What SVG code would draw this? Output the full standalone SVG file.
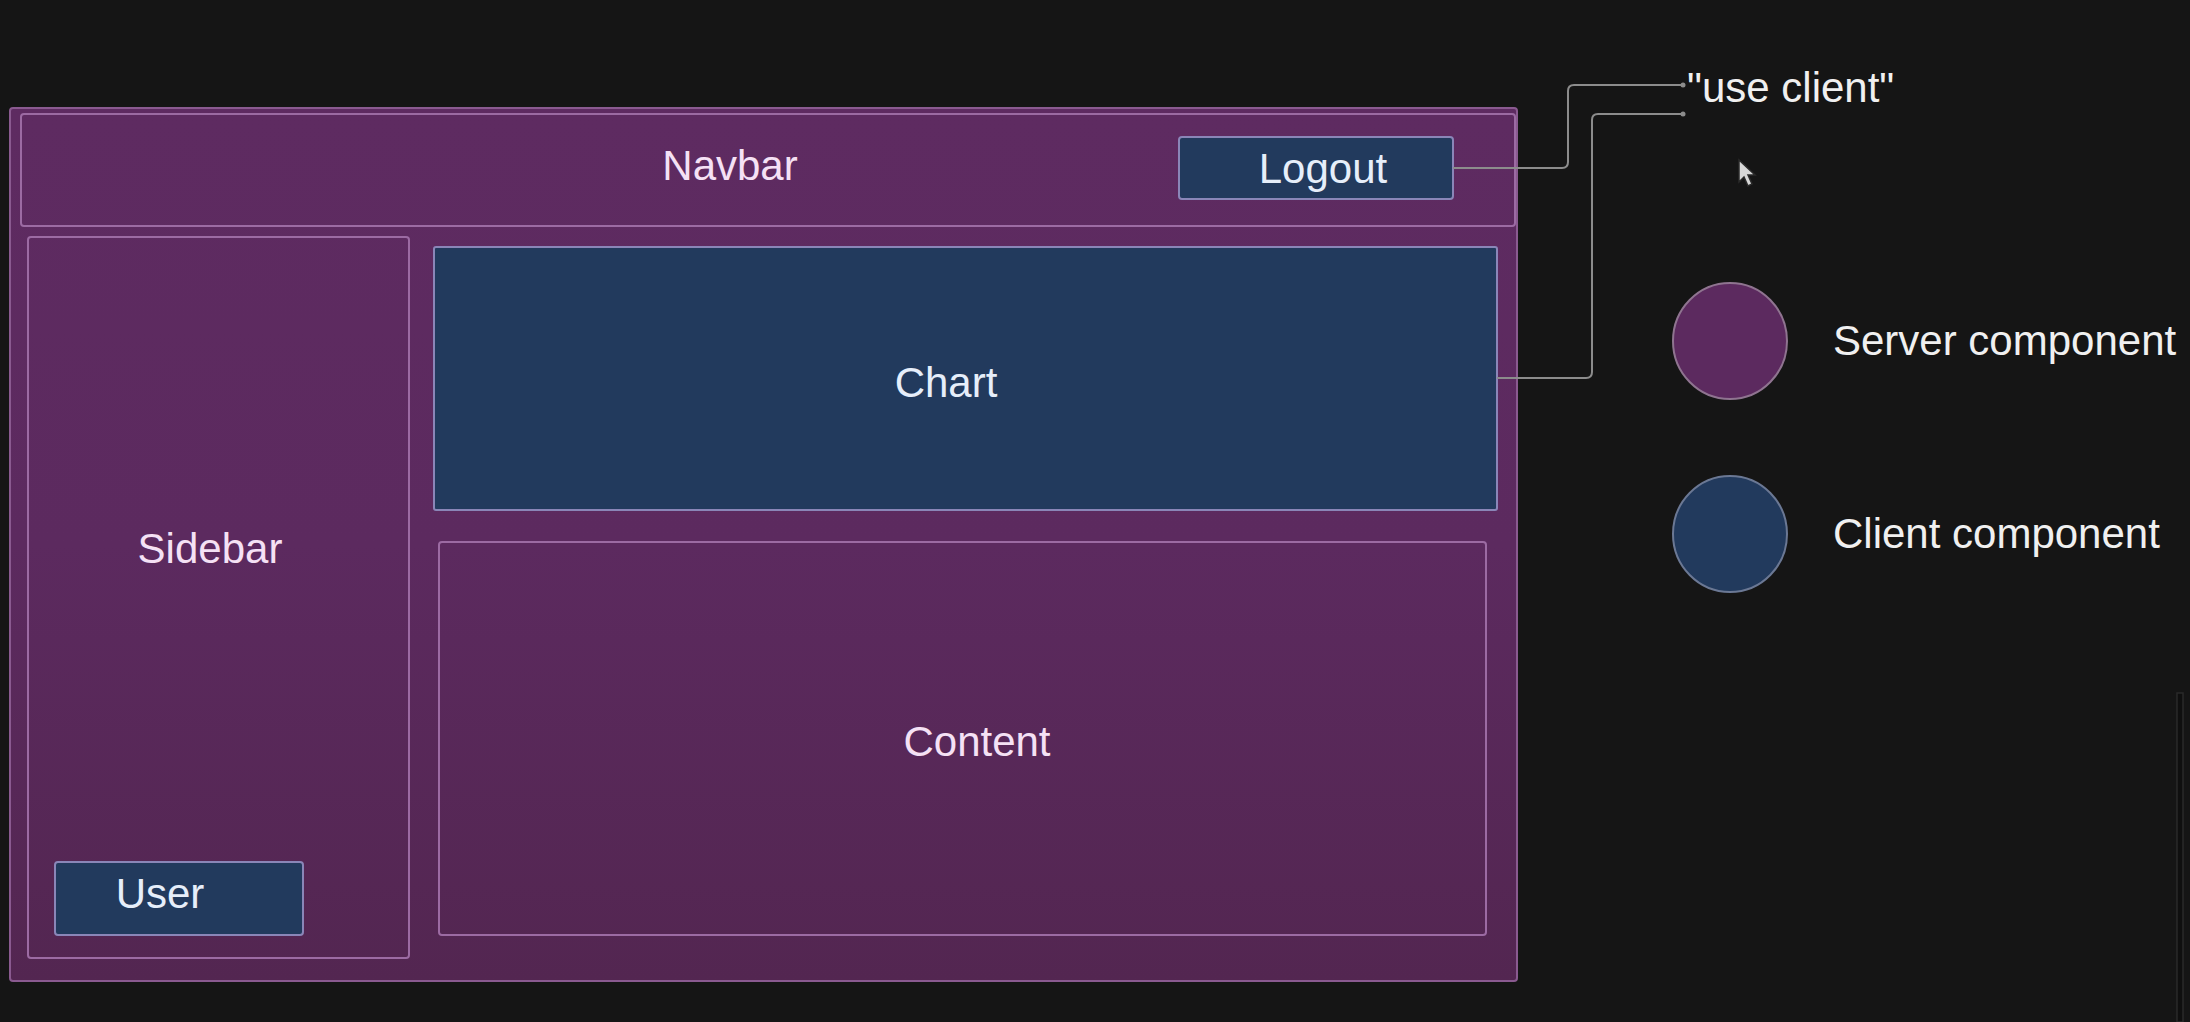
<svg xmlns="http://www.w3.org/2000/svg" width="2190" height="1022" viewBox="0 0 2190 1022">
  <style>
    .lbl { font-family: "Liberation Sans", Arial, sans-serif; font-size: 42px; }
    .pt { fill: #f5e1f5; text-anchor: middle; }
    .bt { fill: #e6eefa; text-anchor: middle; }
    .wt { fill: #f0f0f0; }
    .srv { fill: url(#pg); stroke: #9c6ba3; stroke-width: 2; }
    .cli { fill: #223a5d; stroke: #8a86b8; stroke-width: 2; }
    .conn { fill: none; stroke: #8c8c8c; stroke-width: 2; }
  </style>
  <defs>
    <linearGradient id="pg" gradientUnits="userSpaceOnUse" x1="0" y1="108" x2="0" y2="981">
      <stop offset="0" stop-color="#5e2b61"/>
      <stop offset="0.5" stop-color="#5c2a5f"/>
      <stop offset="1" stop-color="#532651"/>
    </linearGradient>
    <marker id="dot" markerWidth="6" markerHeight="6" refX="3" refY="3" markerUnits="userSpaceOnUse">
      <circle cx="3" cy="3" r="2.5" fill="#8c8c8c"/>
    </marker>
  </defs>
  <rect x="0" y="0" width="2190" height="1022" fill="#151515"/>

  <g id="page">
    <rect x="10" y="108" width="1507" height="873" rx="3" fill="url(#pg)" stroke="#8a5a90" stroke-width="2"/>
  </g>
  <g id="navbar">
    <rect class="srv" x="21" y="114" width="1494" height="112" rx="3"/>
    <text class="lbl pt" x="730" y="180">Navbar</text>
  </g>
  <g id="logout">
    <rect class="cli" x="1179" y="137" width="274" height="62" rx="3"/>
    <text class="lbl bt" x="1323" y="183">Logout</text>
  </g>
  <g id="sidebar">
    <rect class="srv" x="28" y="237" width="381" height="721" rx="3"/>
    <text class="lbl pt" x="210" y="563">Sidebar</text>
  </g>
  <g id="user">
    <rect class="cli" x="55" y="862" width="248" height="73" rx="3"/>
    <text class="lbl bt" x="160" y="908">User</text>
  </g>
  <g id="chart">
    <rect class="cli" x="434" y="247" width="1063" height="263" rx="2"/>
    <text class="lbl bt" x="946" y="397">Chart</text>
  </g>
  <g id="content">
    <rect class="srv" x="439" y="542" width="1047" height="393" rx="3"/>
    <text class="lbl pt" x="977" y="756">Content</text>
  </g>

  <g id="connectors">
    <path class="conn" d="M1453,168 H1562 Q1568,168 1568,162 V91 Q1568,85 1574,85 H1683" marker-end="url(#dot)"/>
    <path class="conn" d="M1497,378 H1586 Q1592,378 1592,372 V120 Q1592,114 1598,114 H1683" marker-end="url(#dot)"/>
  </g>

  <g id="use-client">
    <text class="lbl wt" x="1687" y="102">"use client"</text>
  </g>

  <g id="legend-server">
    <ellipse cx="1730" cy="341" rx="57" ry="58" fill="#5c2a5f" stroke="#8f7490" stroke-width="2"/>
    <text class="lbl wt" x="1833" y="355">Server component</text>
  </g>
  <g id="legend-client">
    <ellipse cx="1730" cy="534" rx="57" ry="58" fill="#223a5d" stroke="#6b7894" stroke-width="2"/>
    <text class="lbl wt" x="1833" y="548">Client component</text>
  </g>

  <path d="M1739,160 L1739,182 L1744,177 L1748,186 L1752,184 L1748,175 L1755,175 Z" fill="#d8d8d8" stroke="#2a2a2a" stroke-width="1.5"/>
  <rect x="2177" y="693" width="6" height="329" fill="#0f0f0f" stroke="#2a2a2a" stroke-width="1.5"/>
</svg>
